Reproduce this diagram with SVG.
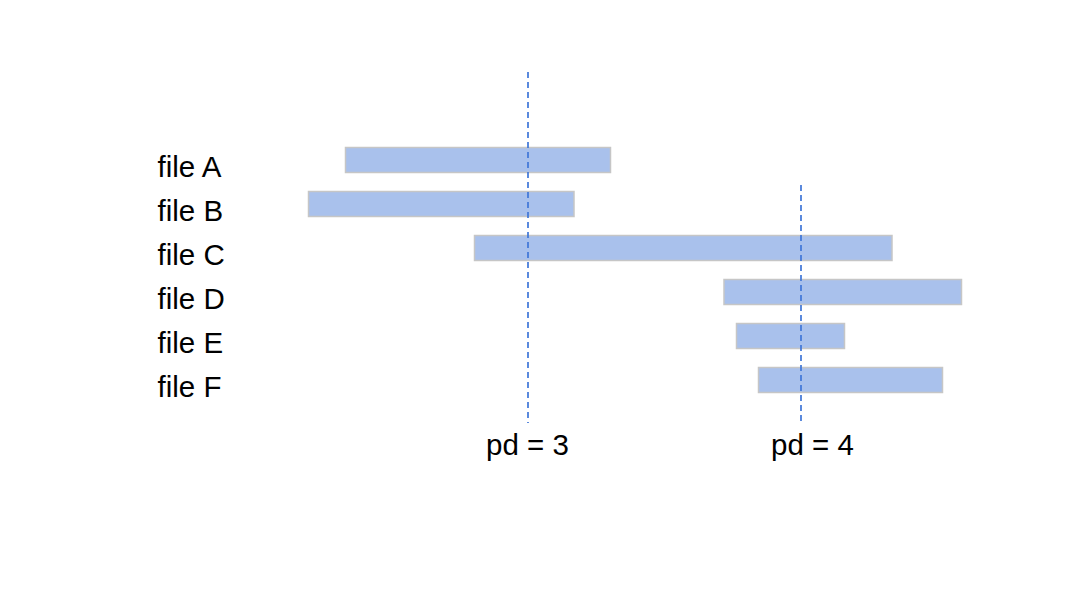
<svg xmlns="http://www.w3.org/2000/svg" width="1080" height="594" viewBox="0 0 1080 594">
<style>
.bar{fill:#a9c1ec;stroke:#c6c6c6;stroke-width:1.5}
.lbl{font-family:"Liberation Sans",Arial,sans-serif;font-size:29.5px;fill:#000}
.dash{stroke:#3f76d8;stroke-width:1.7;stroke-dasharray:6,4;fill:none}
</style>
<rect width="1080" height="594" fill="#fff"/>
<g id="fileA"><rect class="bar" x="345.5" y="147.5" width="265" height="25"/><text class="lbl" x="157.5" y="177">file A</text></g>
<g id="fileB"><rect class="bar" x="308.5" y="191.5" width="265.5" height="25"/><text class="lbl" x="157.5" y="221">file B</text></g>
<g id="fileC"><rect class="bar" x="474.5" y="235.5" width="417.5" height="25"/><text class="lbl" x="157.5" y="265">file C</text></g>
<g id="fileD"><rect class="bar" x="724" y="279.5" width="237.5" height="25"/><text class="lbl" x="157.5" y="309">file D</text></g>
<g id="fileE"><rect class="bar" x="736.5" y="323.5" width="108" height="25"/><text class="lbl" x="157.5" y="353">file E</text></g>
<g id="fileF"><rect class="bar" x="758.5" y="367.5" width="184" height="25"/><text class="lbl" x="157.5" y="397">file F</text></g>
<g id="connectors">
<line class="dash" x1="528" y1="72" x2="528" y2="423"/>
<line class="dash" x1="801" y1="185" x2="801" y2="421"/>
</g>
<g id="pd3"><text class="lbl" x="486" y="455">pd = 3</text></g>
<g id="pd4"><text class="lbl" x="771" y="455">pd = 4</text></g>
</svg>
